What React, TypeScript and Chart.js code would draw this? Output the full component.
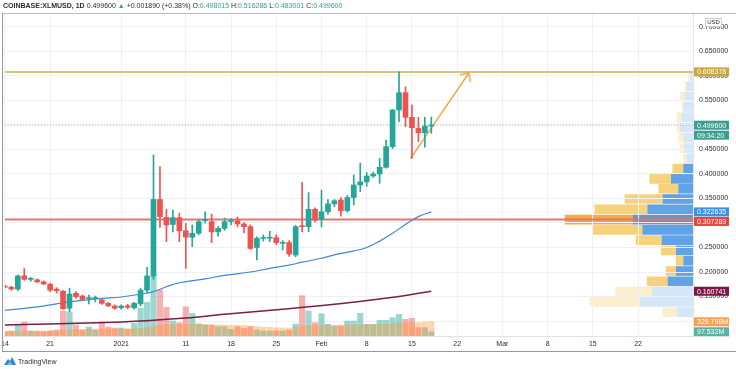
import React, { useEffect, useRef } from 'react';
import { Chart, registerables } from 'chart.js';
Chart.register(...registerables);

// ---------------- data ----------------
const FIRST_DAY = -18; // 2020-12-14, days counted from 2021-01-01

const open = [
  0.171, 0.169, 0.165, 0.192, 0.185, 0.184, 0.180, 0.175, 0.165, 0.161, 0.126, 0.1565, 0.151, 0.146, 0.146, 0.143, 0.136, 0.1306,
  0.127, 0.131, 0.127, 0.135, 0.163, 0.192, 0.348, 0.3116, 0.297, 0.311,
  0.284, 0.271, 0.279, 0.305, 0.3027, 0.282, 0.289, 0.303, 0.3047, 0.298,
  0.2925, 0.250, 0.2685, 0.269, 0.270, 0.2585, 0.260, 0.2347, 0.294, 0.2925, 0.328,
  0.3075, 0.323, 0.339, 0.347, 0.325, 0.352, 0.3776, 0.384, 0.396, 0.400, 0.4136, 0.4557, 0.5306, 0.566, 0.5157, 0.493, 0.484, 0.498015,
];
const high = [
  0.174, 0.171, 0.194, 0.207, 0.189, 0.186, 0.182, 0.177, 0.168, 0.162, 0.167, 0.160, 0.153, 0.153, 0.151, 0.145, 0.138, 0.133,
  0.133, 0.134, 0.138, 0.167, 0.2096, 0.439, 0.415, 0.328, 0.3265, 0.320,
  0.299, 0.296, 0.306, 0.323, 0.318, 0.293, 0.31, 0.309, 0.312, 0.301,
  0.296, 0.272, 0.2755, 0.283, 0.276, 0.264, 0.264, 0.295, 0.383, 0.362, 0.331,
  0.367, 0.348, 0.348, 0.352, 0.356, 0.398, 0.422, 0.403, 0.404, 0.432, 0.469, 0.532, 0.6084, 0.578, 0.541, 0.5157, 0.5157, 0.516286,
];
const low = [
  0.167, 0.163, 0.162, 0.183, 0.181, 0.178, 0.174, 0.160, 0.157, 0.124, 0.119, 0.146, 0.141, 0.135, 0.139, 0.134, 0.129, 0.124,
  0.124, 0.125, 0.124, 0.131, 0.157, 0.185, 0.291, 0.262, 0.282, 0.262,
  0.2075, 0.2517, 0.276, 0.300, 0.260, 0.273, 0.285, 0.296, 0.292, 0.28,
  0.246, 0.2245, 0.263, 0.262, 0.256, 0.245, 0.232, 0.231, 0.282, 0.282, 0.302,
  0.292, 0.318, 0.333, 0.314, 0.322, 0.337, 0.364, 0.375, 0.393, 0.381, 0.412, 0.452, 0.507, 0.4966, 0.432, 0.466, 0.4545, 0.483001,
];
const close = [
  0.169, 0.165, 0.192, 0.185, 0.186, 0.180, 0.1755, 0.163, 0.162, 0.125, 0.155, 0.1497, 0.144, 0.1465, 0.146, 0.136, 0.131, 0.126,
  0.1306, 0.128, 0.136, 0.163, 0.192, 0.348, 0.313, 0.296, 0.311, 0.284,
  0.271, 0.279, 0.3027, 0.306, 0.282, 0.289, 0.3027, 0.304, 0.298, 0.2925,
  0.248, 0.2687, 0.269, 0.2695, 0.260, 0.259, 0.2367, 0.2925, 0.2925, 0.328, 0.306,
  0.323, 0.339, 0.3455, 0.325, 0.352, 0.3776, 0.384, 0.396, 0.400, 0.4136, 0.4557, 0.5306, 0.566, 0.5157, 0.4945, 0.484, 0.498, 0.4996,
];
// volume, millions
const volume = [
  104, 116, 255, 325, 116, 104, 104, 116, 139, 580, 557, 255, 139, 209, 139, 325, 209, 186,
  186, 162, 295, 643, 782, 1392, 1067, 666, 348, 309,
  680, 527, 278, 255, 255, 216, 220, 155, 216, 174,
  216, 139, 116, 116, 116, 116, 139, 278, 935, 580, 309,
  517, 271, 232, 232, 348, 348, 527, 271, 271, 364, 364, 425, 503, 387, 411, 193, 193, 97.532,
];
const volumeMA = [
  104, 104, 111, 116, 116, 116, 116, 116, 121, 139, 151, 151, 151, 158, 162, 162, 162, 162,
  162, 162, 167, 181, 197, 232, 255, 267, 267, 267,
  278, 278, 274, 267, 262, 255, 255, 251, 244, 244,
  232, 220, 209, 197, 190, 186, 186, 209, 232, 244, 244,
  251, 251, 251, 251, 255, 255, 262, 262, 267, 274, 278, 285, 297, 302, 309, 313, 325, 329.798,
];
const maFast = [
  { x: -18, y: 0.122 }, { x: -13, y: 0.129 }, { x: -8, y: 0.139 }, { x: -3, y: 0.146 }, { x: 0, y: 0.149 },
  { x: 3, y: 0.155 }, { x: 5, y: 0.160 }, { x: 7, y: 0.170 }, { x: 9, y: 0.178 }, { x: 13, y: 0.186 },
  { x: 16, y: 0.193 }, { x: 20, y: 0.200 }, { x: 23, y: 0.2075 }, { x: 26, y: 0.214 }, { x: 28, y: 0.220 },
  { x: 31, y: 0.228 }, { x: 33, y: 0.235 }, { x: 36, y: 0.243 }, { x: 38, y: 0.250 }, { x: 40, y: 0.263 },
  { x: 42, y: 0.279 }, { x: 44, y: 0.297 }, { x: 46, y: 0.313 }, { x: 48, y: 0.322635 },
];
const maSlow = [
  { x: -18, y: 0.092 }, { x: 0, y: 0.098 }, { x: 10, y: 0.106 }, { x: 16, y: 0.114 }, { x: 25, y: 0.124 },
  { x: 33, y: 0.134 }, { x: 40, y: 0.145 }, { x: 44, y: 0.152 }, { x: 48, y: 0.160741 },
];
const tickDays = [-18, -11, 0, 10, 17, 24, 31, 38, 45, 52, 59, 66, 73, 80];
const tickLabels = ['14', '21', '2021', '11', '18', '25', 'Feb', '8', '15', '22', 'Mar', '8', '15', '22'];
const priceTicks = [0.1, 0.15, 0.2, 0.25, 0.3, 0.35, 0.4, 0.45, 0.5, 0.55, 0.6, 0.65, 0.7];
const resistance = 0.608378;
const support = 0.307289;
const lastPrice = 0.4996;
const arrowPoints = [{ x: 44.8, y: 0.432 }, { x: 53.8, y: 0.606 }];
// visible-range volume profile
const profileBins = [0.118, 0.139, 0.160, 0.181, 0.202, 0.223, 0.244, 0.265, 0.286, 0.307, 0.328, 0.349,
  0.370, 0.390, 0.411, 0.432, 0.453, 0.474, 0.495, 0.516, 0.537, 0.558, 0.579, 0.600];
const profileUp = [160, 527, 410, 250, 167, 93, 167, 310, 503, 600, 453, 300, 143, 217, 93, 60, 83, 93, 127, 110, 93, 77, 60, 27];
const profileDown = [140, 507, 367, 210, 103, 77, 150, 260, 500, 683, 533, 383, 200, 217, 110, 33, 43, 50, 33, 50, 17, 50, 17, 17];
const VA_FIRST = 3, VA_LAST = 14, POC = 9;

const axisLabels = [
  { axis: 'y', value: resistance, text: '0.608378', bg: '#c8a83e', dy: 0 },
  { axis: 'y', value: lastPrice, text: '0.499600', bg: '#3a9f8e', dy: 0 },
  { axis: 'y', value: lastPrice, text: '09:34:20', bg: '#3a9f8e', dy: 10 },
  { axis: 'y', value: 0.322635, text: '0.322635', bg: '#3f8fe3', dy: 0 },
  { axis: 'y', value: support, text: '0.307289', bg: '#e8453c', dy: 2 },
  { axis: 'y', value: 0.160741, text: '0.160741', bg: '#7d1747', dy: 0 },
  { axis: 'yVol', value: 329.798, text: '329.798M', bg: '#f4a252', dy: 0 },
  { axis: 'yVol', value: 97.532, text: '97.532M', bg: '#58b3a1', dy: 0 },
];

// ---------------- layout constants ----------------
const W = 736;
const SHIFT = 3;
const CW = W + SHIFT;
const CH = 352;
const YMIN = 0.0694, YMAX = 0.7265;
const XMIN = -18, XMAX = 88.5;
const VOL_MAX = 7470;
const PROFILE_MAX = 6900;
const FONT = '"Liberation Sans", Arial, sans-serif';
const UP = '#26a69a', DOWN = '#ef5350';
const TEXT = '#2a2e39';

function makeChevron() {
  const c = document.createElement('canvas');
  c.width = 20; c.height = 20;
  const g = c.getContext('2d')!;
  g.strokeStyle = '#f5a23a';
  g.lineWidth = 1.5;
  g.lineCap = 'round';
  g.beginPath();
  g.moveTo(4, 16); g.lineTo(10, 10); g.lineTo(16, 16);
  g.stroke();
  return c;
}

const labelPlugin = {
  id: 'axisLabels',
  afterDraw(chart: any) {
    const ctx = chart.ctx;
    const ca = chart.chartArea;
    ctx.save();
    ctx.font = `7px ${FONT}`;
    ctx.textBaseline = 'middle';
    for (const l of axisLabels) {
      const y = chart.scales[l.axis].getPixelForValue(l.value) + l.dy;
      const x = ca.right + 1;
      ctx.fillStyle = l.bg;
      ctx.fillRect(x, y - 4.5, 35, 9);
      ctx.fillStyle = '#ffffff';
      ctx.fillText(l.text, x + 3, y + 0.5);
    }
    // USD badge
    const bx = ca.right + 12, by = ca.top + 4;
    ctx.fillStyle = '#ffffff';
    ctx.strokeStyle = '#c9ccd4';
    ctx.lineWidth = 1;
    ctx.fillRect(bx, by, 17, 9);
    ctx.strokeRect(bx + 0.5, by + 0.5, 16, 8);
    ctx.fillStyle = TEXT;
    ctx.textAlign = 'center';
    ctx.font = `6px ${FONT}`;
    ctx.fillText('USD', bx + 8.5, by + 4.8);
    ctx.restore();
  },
};

export default function App() {
  const aRef = useRef<HTMLCanvasElement>(null);
  const bRef = useRef<HTMLCanvasElement>(null);

  useEffect(() => {
    const days = open.map((_, i) => FIRST_DAY + i);
    const isUp = open.map((o, i) => close[i] >= o);
    const chev = makeChevron();
    const a = new Chart(aRef.current!, {
      type: 'bar',
      data: {
        datasets: [
          {
            type: 'bar', label: 'wick', data: days.map((d, i) => ({ x: d, y: [low[i], high[i]] })) as any,
            backgroundColor: isUp.map((u) => (u ? UP : DOWN)), barThickness: 1, grouped: false, order: 1,
          },
          {
            type: 'bar', label: 'body', data: days.map((d, i) => ({ x: d, y: [open[i], close[i]] })) as any,
            backgroundColor: isUp.map((u) => (u ? UP : DOWN)), barThickness: 5, minBarLength: 1, grouped: false, order: 0,
          },
          {
            type: 'bar', label: 'volume MA', data: days.map((d, i) => ({ x: d, y: volumeMA[i] })) as any,
            backgroundColor: 'rgba(255,145,40,0.38)', barThickness: 5.5, grouped: false, yAxisID: 'yVol', order: 8,
          },
          {
            type: 'bar', label: 'volume', data: days.map((d, i) => ({ x: d, y: volume[i] })) as any,
            backgroundColor: isUp.map((u) => (u ? 'rgba(38,166,154,0.45)' : 'rgba(239,83,80,0.45)')),
            barThickness: 5.5, grouped: false, yAxisID: 'yVol', order: 9,
          },
          {
            type: 'line', label: 'MA fast', data: maFast as any, borderColor: '#3f86d6', borderWidth: 1.2,
            pointRadius: 0, tension: 0.4, order: 4,
          },
          {
            type: 'line', label: 'MA slow', data: maSlow as any, borderColor: '#7a1f40', borderWidth: 1.5,
            pointRadius: 0, tension: 0.4, order: 4,
          },
          {
            type: 'line', label: 'resistance', data: [{ x: XMIN, y: resistance }, { x: XMAX, y: resistance }] as any,
            borderColor: '#c9b44e', borderWidth: 1.5, pointRadius: 0, order: 5,
          },
          {
            type: 'line', label: 'support', data: [{ x: XMIN, y: support }, { x: XMAX, y: support }] as any,
            borderColor: '#e5766b', borderWidth: 2, pointRadius: 0, order: 5,
          },
          {
            type: 'line', label: 'last', data: [{ x: XMIN, y: lastPrice }, { x: XMAX, y: lastPrice }] as any,
            borderColor: 'rgba(120,160,155,0.7)', borderWidth: 1, borderDash: [1, 2], pointRadius: 0, order: 6,
          },
          {
            type: 'line', label: 'arrow', data: arrowPoints as any, borderColor: '#f5a23a', borderWidth: 1.5,
            pointRadius: (c: any) => (c.dataIndex === 1 ? 5 : 0),
            pointStyle: (c: any) => (c.dataIndex === 1 ? chev : 'circle'),
            pointRotation: (c: any) => {
              const xs = c.chart.scales.x, ys = c.chart.scales.y;
              if (!xs || !ys) return 0;
              const dx = xs.getPixelForValue(arrowPoints[1].x) - xs.getPixelForValue(arrowPoints[0].x);
              const dy = ys.getPixelForValue(arrowPoints[1].y) - ys.getPixelForValue(arrowPoints[0].y);
              return (Math.atan2(dx, -dy) * 180) / Math.PI;
            },
            order: 2,
          } as any,
        ],
      },
      options: {
        animation: false,
        responsive: false,
        maintainAspectRatio: false,
        layout: { padding: { top: 14, left: 0, right: 0, bottom: 0 } },
        plugins: { legend: { display: false }, tooltip: { enabled: false } },
        scales: {
          x: {
            type: 'linear', min: XMIN, max: XMAX, offset: false,
            afterBuildTicks: (s: any) => { s.ticks = tickDays.map((v) => ({ value: v })); },
            afterFit: (s: any) => { s.height = 16; },
            ticks: {
              callback: (_v: any, i: number) => tickLabels[i],
              font: { size: 7, family: FONT }, color: TEXT, maxRotation: 0, autoSkip: false, padding: 4,
            },
            grid: { color: '#eef0f4', drawTicks: false, offset: false },
            border: { display: true, color: '#dfe2e8' },
          },
          y: {
            type: 'linear', position: 'right', min: YMIN, max: YMAX, offset: false,
            afterBuildTicks: (s: any) => { s.ticks = priceTicks.map((v) => ({ value: v })); },
            afterFit: (s: any) => { s.width = 43; },
            ticks: {
              callback: (v: any) => Number(v).toFixed(6),
              font: { size: 7, family: FONT }, color: TEXT, padding: 6,
            },
            grid: { color: '#eef0f4', drawTicks: false },
            border: { display: true, color: '#e3e5ea' },
          },
          yVol: { type: 'linear', display: false, min: 0, max: VOL_MAX, offset: false },
        },
      } as any,
      plugins: [labelPlugin],
    });

    const ca = a.chartArea;
    const rowColor = (i: number, dark: string, light: string, poc: string) =>
      i === POC ? poc : i >= VA_FIRST && i <= VA_LAST ? dark : light;
    const b = new Chart(bRef.current!, {
      type: 'bar',
      data: {
        datasets: [
          {
            label: 'up volume', data: profileBins.map((p, i) => ({ x: profileUp[i], y: p })) as any,
            backgroundColor: profileBins.map((_, i) => rowColor(i, '#62a3e8', '#d5e7f8', '#6f90c2')),
            barThickness: 9,
          },
          {
            label: 'down volume', data: profileBins.map((p, i) => ({ x: profileDown[i], y: p })) as any,
            backgroundColor: profileBins.map((_, i) => rowColor(i, '#f6d27c', '#fcefcd', '#f3ab44')),
            barThickness: 9,
          },
        ],
      },
      options: {
        indexAxis: 'y',
        animation: false,
        responsive: false,
        maintainAspectRatio: false,
        layout: { padding: { left: ca.left, right: CW - ca.right, top: ca.top, bottom: CH - ca.bottom } },
        plugins: { legend: { display: false }, tooltip: { enabled: false } },
        scales: {
          y: { type: 'linear', min: YMIN, max: YMAX, display: false, stacked: true, offset: false, grid: { offset: false } },
          x: { type: 'linear', min: 0, max: PROFILE_MAX, reverse: true, display: false, stacked: true, offset: false },
        },
      } as any,
    });

    return () => { a.destroy(); b.destroy(); };
  }, []);

  const teal = '#26a69a';
  return (
    <div style={{ position: 'fixed', left: 0, top: 0, width: W, height: 369, overflow: 'hidden', background: '#ffffff', fontFamily: FONT }}>
      <canvas ref={bRef} width={CW} height={CH} style={{ position: 'absolute', left: -SHIFT, top: 0, width: CW, height: CH }} />
      <canvas ref={aRef} width={CW} height={CH} style={{ position: 'absolute', left: -SHIFT, top: 0, width: CW, height: CH }} />
      <div style={{ position: 'absolute', left: 2, top: 13, width: W - 2, height: CH - 13, borderLeft: '1px solid #9598a1', borderTop: '1px solid #b8bbc3', borderBottom: '1px solid #9598a1', boxSizing: 'border-box', pointerEvents: 'none' }} />
      <div style={{ position: 'absolute', left: 3, top: 1, fontSize: 7, lineHeight: '9px', color: TEXT, whiteSpace: 'nowrap' }}>
        <b>COINBASE:XLMUSD, 1D</b>{' '}
        <span>0.499600</span> <span style={{ color: teal }}>▲</span> <span>+0.001890 (+0.38%)</span>{' '}
        O:<span style={{ color: teal }}>0.498015</span>{' '}
        H:<span style={{ color: teal }}>0.516286</span>{' '}
        L:<span style={{ color: teal }}>0.483001</span>{' '}
        C:<span style={{ color: teal }}>0.499600</span>
      </div>
      <div style={{ position: 'absolute', left: 4, top: 357, display: 'flex', alignItems: 'center', fontSize: 7, color: '#2a2e39' }}>
        <svg width="12" height="8" viewBox="0 0 12 8" style={{ marginRight: 2 }}>
          <path d="M0 8 L4 2 L6 4 L8 0 L12 8 Z" fill="#2f7fd8" />
          <path d="M3 8 L6 4 L9 8 Z" fill="#6fb1f0" />
        </svg>
        <span>TradingView</span>
      </div>
    </div>
  );
}
